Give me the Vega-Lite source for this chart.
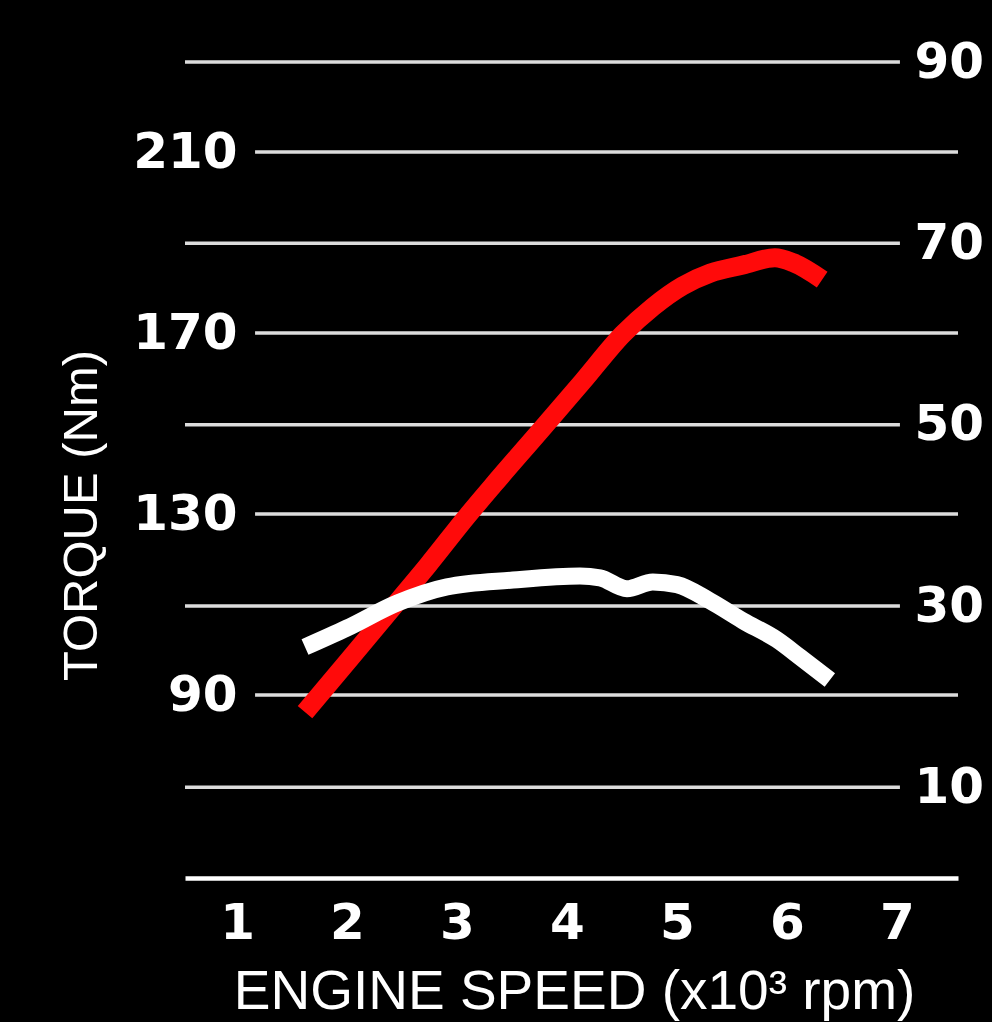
{
  "$schema": "https://vega.github.io/schema/vega-lite/v6.json",
  "width": 773,
  "height": 816,
  "autosize": {"type": "none"},
  "padding": {"left": 185, "top": 62, "right": 34, "bottom": 144},
  "background": "#000000",
  "config": {
    "view": {"stroke": null},
    "axis": {"labelColor": "#ffffff", "titleColor": "#ffffff", "grid": false, "ticks": false, "domain": false, "labelFlush": false, "labelOverlap": false}
  },
  "datasets": {
    "gridL": [{"v": 90}, {"v": 130}, {"v": 170}, {"v": 210}],
    "gridR": [{"v": 10}, {"v": 30}, {"v": 50}, {"v": 70}, {"v": 90}],
    "torque": [
      {"rpm": 1.618, "torque": 100.6},
      {"rpm": 2.0, "torque": 104.8},
      {"rpm": 2.455, "torque": 110.3},
      {"rpm": 2.909, "torque": 113.9},
      {"rpm": 3.509, "torque": 115.4},
      {"rpm": 4.118, "torque": 116.3},
      {"rpm": 4.3, "torque": 115.9},
      {"rpm": 4.545, "torque": 113.5},
      {"rpm": 4.78, "torque": 115.0},
      {"rpm": 5.0, "torque": 114.4},
      {"rpm": 5.3, "torque": 110.8},
      {"rpm": 5.6, "torque": 106.4},
      {"rpm": 5.91, "torque": 102.2},
      {"rpm": 6.118, "torque": 98.4},
      {"rpm": 6.39, "torque": 93.3}
    ],
    "power": [
      {"rpm": 1.618, "power": 18.3},
      {"rpm": 2.027, "power": 24.2},
      {"rpm": 2.482, "power": 30.8},
      {"rpm": 2.736, "power": 34.5},
      {"rpm": 3.091, "power": 39.9},
      {"rpm": 3.327, "power": 43.3},
      {"rpm": 3.755, "power": 49.3},
      {"rpm": 4.145, "power": 54.8},
      {"rpm": 4.509, "power": 60.0},
      {"rpm": 4.782, "power": 63.0},
      {"rpm": 5.05, "power": 65.3},
      {"rpm": 5.3, "power": 66.7},
      {"rpm": 5.6, "power": 67.6},
      {"rpm": 5.89, "power": 68.4},
      {"rpm": 6.05, "power": 67.9},
      {"rpm": 6.32, "power": 66.0}
    ]
  },
  "layer": [
    {
      "data": {"name": "gridL"},
      "mark": {"type": "rule", "color": "#dcdcdc", "strokeWidth": 3.5},
      "encoding": {
        "x": {"datum": 1.164, "type": "quantitative", "title": "ENGINE SPEED (x10³ rpm)"},
        "x2": {"datum": 7.555},
        "y": {
          "field": "v", "type": "quantitative", "title": "TORQUE (Nm)",
          "scale": {"domain": [49.56, 229.9], "nice": false, "zero": false},
          "axis": {
            "orient": "left", "offset": -70, "values": [90, 130, 170, 210],
            "labelPadding": 18, "labelFont": "DejaVu Sans", "labelFontWeight": "bold", "labelFontSize": 50, "labelBaseline": "middle",
            "titleFont": "Liberation Sans", "titleFontSize": 49, "titleFontWeight": "normal",
            "titleX": -174, "titleY": 453, "titleAngle": -90, "titleAlign": "center", "titleBaseline": "middle"
          }
        }
      }
    },
    {
      "data": {"name": "gridR"},
      "mark": {"type": "rule", "color": "#dcdcdc", "strokeWidth": 3.5},
      "encoding": {
        "x": {"datum": 0.527, "type": "quantitative", "title": "ENGINE SPEED (x10³ rpm)"},
        "x2": {"datum": 7.027},
        "y": {
          "field": "v", "type": "quantitative", "title": null,
          "scale": {"domain": [0, 90], "nice": false, "zero": false},
          "axis": {
            "orient": "right", "offset": -58, "values": [10, 30, 50, 70, 90],
            "labelPadding": 14, "labelFont": "DejaVu Sans", "labelFontWeight": "bold", "labelFontSize": 50, "labelBaseline": "middle"
          }
        }
      }
    },
    {
      "data": {"name": "power"},
      "mark": {"type": "line", "color": "#ff0a0a", "strokeWidth": 19, "interpolate": "monotone", "strokeCap": "butt"},
      "encoding": {
        "x": {
          "field": "rpm", "type": "quantitative", "title": "ENGINE SPEED (x10³ rpm)",
          "scale": {"domain": [0.527, 7.555], "nice": false, "zero": false},
          "axis": {
            "orient": "bottom", "values": [1, 2, 3, 4, 5, 6, 7], "format": "d",
            "domain": true, "domainColor": "#ffffff", "domainWidth": 4.5,
            "labelFont": "DejaVu Sans", "labelFontWeight": "bold", "labelFontSize": 50, "labelPadding": 60, "labelBaseline": "alphabetic",
            "titleFont": "Liberation Sans", "titleFontSize": 55, "titleFontWeight": "normal",
            "titleX": 389, "titleY": 130, "titleBaseline": "alphabetic", "titleAlign": "center"
          }
        },
        "y": {"field": "power", "type": "quantitative", "scale": {"domain": [0, 90], "nice": false, "zero": false}, "axis": null}
      }
    },
    {
      "data": {"name": "torque"},
      "mark": {"type": "line", "color": "#ffffff", "strokeWidth": 17, "interpolate": "monotone", "strokeCap": "butt"},
      "encoding": {
        "x": {"field": "rpm", "type": "quantitative", "title": "ENGINE SPEED (x10³ rpm)"},
        "y": {"field": "torque", "type": "quantitative", "scale": {"domain": [49.56, 229.9], "nice": false, "zero": false}, "axis": null}
      }
    }
  ],
  "resolve": {"scale": {"y": "independent"}}
}
